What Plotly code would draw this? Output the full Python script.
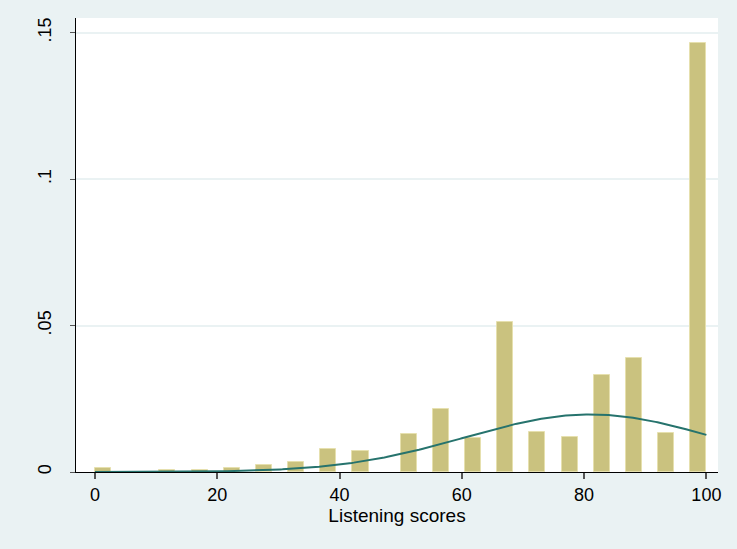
import numpy as np
import plotly.graph_objects as go

# Histogram bins (left edges, bin width = 100/38) and densities
bin_start = [0.00, 10.53, 15.79, 21.05, 26.32, 31.58, 36.84, 42.11,
             50.00, 55.26, 60.53, 65.79, 71.05, 76.32, 81.58, 86.84, 92.11, 97.37]
density = [0.0012, 0.0006, 0.0006, 0.0015, 0.0025, 0.0035, 0.0078, 0.0072,
           0.0129, 0.0214, 0.0117, 0.0513, 0.0137, 0.0120, 0.0332, 0.0389, 0.0134, 0.1463]
bin_width = 100 / 38

# Normal density overlay parameters
normal_mean = 81.0
normal_sd = 20.3

x_ticks = [0, 20, 40, 60, 80, 100]
y_ticks = [0, 0.05, 0.1, 0.15]
y_tick_text = ["0", ".05", ".1", ".15"]

xc = np.linspace(0, 100, 301)
yc = np.exp(-0.5 * ((xc - normal_mean) / normal_sd) ** 2) / (normal_sd * np.sqrt(2 * np.pi))

fig = go.Figure()
fig.add_trace(go.Bar(
    x=bin_start, y=density, width=bin_width, offset=0,
    marker=dict(color="#CAC27F", line=dict(color="#E6E0AE", width=1)),
    showlegend=False, hoverinfo="x+y",
))
fig.add_trace(go.Scatter(
    x=xc, y=yc, mode="lines", line=dict(color="#26736D", width=2),
    showlegend=False,
))

font = dict(family="Liberation Sans, Arial, sans-serif", size=18, color="#000000")
title_font = dict(family="Liberation Sans, Arial, sans-serif", size=19, color="#000000")
fig.update_layout(
    width=737, height=549,
    paper_bgcolor="#EAF2F3", plot_bgcolor="#FFFFFF",
    margin=dict(l=76, r=19, t=18, b=77),
    font=font,
    bargap=0,
    xaxis=dict(
        range=[-3.1, 101.9], tickvals=x_ticks, ticks="outside", ticklen=6,
        tickcolor="#555555", tickwidth=1.5,
        showline=True, linecolor="#000000", linewidth=1.2,
        showgrid=False, zeroline=False,
        title=dict(text="Listening scores", standoff=2, font=title_font),
        tickfont=font,
    ),
    yaxis=dict(
        range=[0, 0.155], tickvals=y_ticks, ticktext=y_tick_text,
        ticks="outside", ticklen=5, tickcolor="#555555", tickwidth=1.2,
        tickangle=-90, ticklabelstandoff=12,
        showline=True, linecolor="#000000", linewidth=1.2,
        showgrid=True, gridcolor="#EAF2F3", gridwidth=1.5,
        zeroline=False, tickfont=font,
    ),
)
fig.write_html("out.html", config={"displayModeBar": False},
               post_script="document.body.style.margin='0';")
